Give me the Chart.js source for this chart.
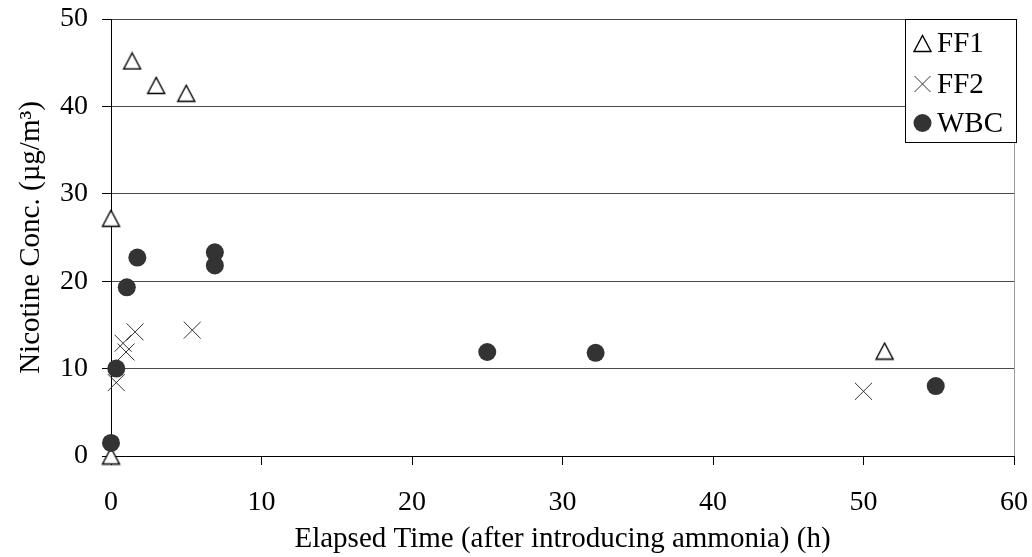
<!DOCTYPE html>
<html>
<head>
<meta charset="utf-8">
<script src="https://cdn.jsdelivr.net/npm/chart.js@4.4.0/dist/chart.umd.min.js"></script>
<style>
  html, body { margin: 0; padding: 0; background: #fff; }
  #wrap { width: 1032px; height: 557px; position: relative; }
</style>
</head>
<body>
<div id="wrap"><canvas id="chart" width="1032" height="557"></canvas></div>
<script>
const FF1_X = [0, 0, 1.4, 3.0, 5.0, 51.4];
const FF1_Y = [0, 27.2, 45.2, 42.4, 41.5, 12.0];
const FF2_X = [0.35, 0.8, 1.0, 1.6, 5.4, 50.0];
const FF2_Y = [8.4, 12.9, 11.9, 14.2, 14.4, 7.4];
const WBC_X = [0, 0.35, 1.05, 1.75, 6.9, 6.9, 25.0, 32.2, 54.8];
const WBC_Y = [1.5, 10.0, 19.3, 22.7, 23.3, 21.8, 11.9, 11.8, 8.0];

const SERIES_NAMES = ['FF1', 'FF2', 'WBC'];
const X_TITLE = 'Elapsed Time (after introducing ammonia) (h)';
const Y_TITLE = 'Nicotine Conc. (\u00b5g/m\u00b3)';

const FONT = '"Liberation Serif", "Times New Roman", serif';
const INK = '#333333';

function toPoints(xs, ys) {
  return xs.map((x, i) => ({ x, y: ys[i] }));
}

// open triangle, centred in its own box (Chart.js built-in one sits high)
function makeTriangle() {
  const c = document.createElement('canvas');
  c.width = 21; c.height = 19;
  const g = c.getContext('2d');
  g.beginPath();
  g.moveTo(2, 17.5);
  g.lineTo(10.5, 1.5);
  g.lineTo(19, 17.5);
  g.closePath();
  g.fillStyle = '#fff';
  g.fill();
  g.strokeStyle = '#000';
  g.lineWidth = 1.4;
  g.stroke();
  return c;
}
const TRI = makeTriangle();

// no extra room for the end tick labels, the plot box is fixed
function noLabelPad(s) {
  s.paddingTop = 0; s.paddingBottom = 0; s.paddingLeft = 0; s.paddingRight = 0;
}

const plotFrame = {
  id: 'plotFrame',
  afterDatasetsDraw(chart) {
    const { ctx, chartArea: a } = chart;
    ctx.save();
    ctx.strokeStyle = '#9a9a9a';
    ctx.lineWidth = 1;
    ctx.beginPath();
    ctx.moveTo(a.right + 0.5, a.top);
    ctx.lineTo(a.right + 0.5, a.bottom);
    ctx.stroke();
    ctx.restore();
  },
  afterDraw(chart) {
    const ctx = chart.ctx;
    const box = { left: 905, top: 19, right: 1016, bottom: 142 };
    ctx.save();
    ctx.fillStyle = '#fff';
    ctx.fillRect(box.left, box.top, box.right - box.left, box.bottom - box.top);
    ctx.strokeStyle = '#000';
    ctx.lineWidth = 1;
    ctx.strokeRect(box.left + 0.5, box.top + 0.5, box.right - box.left, box.bottom - box.top);
    const rows = [43, 84, 123];
    const mx = 922.5;
    ctx.font = '29px ' + FONT;
    ctx.textBaseline = 'middle';
    ctx.textAlign = 'left';
    ctx.fillStyle = '#000';
    SERIES_NAMES.forEach((name, i) => {
      const y = rows[i];
      if (i === 0) {
        ctx.drawImage(TRI, Math.round(mx - TRI.width / 2), Math.round(y - TRI.height / 2));
      } else if (i === 1) {
        ctx.strokeStyle = INK;
        ctx.lineWidth = 1;
        ctx.beginPath();
        ctx.moveTo(mx - 8, y - 8); ctx.lineTo(mx + 8, y + 8);
        ctx.moveTo(mx - 8, y + 8); ctx.lineTo(mx + 8, y - 8);
        ctx.stroke();
      } else {
        ctx.fillStyle = INK;
        ctx.beginPath();
        ctx.arc(mx, y, 9, 0, Math.PI * 2);
        ctx.fill();
      }
      ctx.fillStyle = '#000';
      ctx.fillText(name, 937, y + 1);
    });
    ctx.restore();
  }
};

const PAD = { left: 14, right: 18, top: 19, bottom: 0 };

new Chart(document.getElementById('chart'), {
  type: 'scatter',
  data: {
    datasets: [
      {
        label: SERIES_NAMES[0], data: toPoints(FF1_X, FF1_Y),
        pointStyle: TRI, order: 3, clip: false,
        borderColor: INK, backgroundColor: '#fff',
      },
      {
        label: SERIES_NAMES[1], data: toPoints(FF2_X, FF2_Y),
        pointStyle: 'crossRot', pointRadius: 12, borderWidth: 1, order: 2, clip: false,
        borderColor: INK, backgroundColor: INK,
      },
      {
        label: SERIES_NAMES[2], data: toPoints(WBC_X, WBC_Y),
        pointStyle: 'circle', pointRadius: 9, borderWidth: 0, order: 1, clip: false,
        borderColor: INK, backgroundColor: INK,
      },
    ],
  },
  options: {
    responsive: false,
    animation: false,
    events: [],
    layout: { padding: PAD },
    plugins: { legend: { display: false }, tooltip: { enabled: false } },
    scales: {
      x: {
        type: 'linear', min: 0, max: 60,
        afterFit: s => { s.height = 557 - 456 - PAD.bottom; noLabelPad(s); },
        ticks: { stepSize: 10, color: '#000', font: { family: FONT, size: 28 }, padding: 21, maxRotation: 0 },
        grid: { drawOnChartArea: false, drawTicks: true, tickLength: 9, tickColor: '#000' },
        border: { color: '#000', width: 1 },
        title: { display: true, text: X_TITLE, color: '#000', font: { family: FONT, size: 29 }, padding: { top: 0, bottom: 0 } },
      },
      y: {
        type: 'linear', min: 0, max: 50,
        afterFit: s => { s.width = 111 - PAD.left; noLabelPad(s); },
        ticks: { stepSize: 10, color: '#000', font: { family: FONT, size: 28 }, padding: 14 },
        grid: { color: '#4a4a4a', tickLength: 9, tickColor: '#000' },
        border: { color: '#000', width: 1 },
        title: { display: true, text: Y_TITLE, color: '#000', font: { family: FONT, size: 29 }, padding: { top: 0, bottom: 0 } },
      },
    },
  },
  plugins: [plotFrame],
});
</script>
</body>
</html>
